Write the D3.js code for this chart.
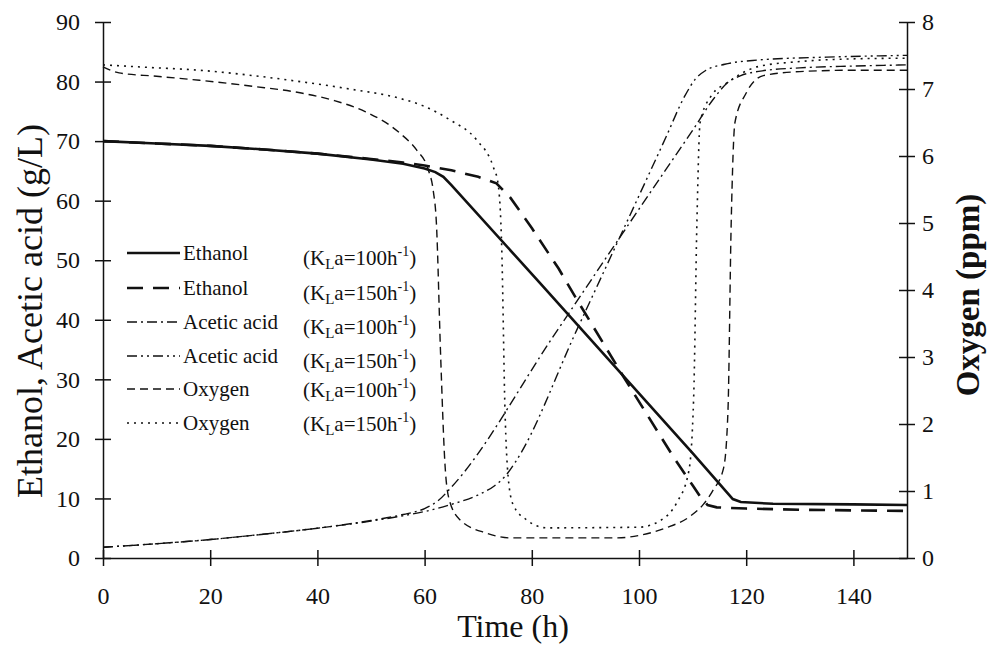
<!DOCTYPE html>
<html>
<head>
<meta charset="utf-8">
<script src="https://cdn.jsdelivr.net/npm/d3@7"></script>
<style>
  body { margin: 0; background: #fff; }
  svg { display: block; }
  text { font-family: "Liberation Serif", "Tinos", "DejaVu Serif", serif; fill: #111; }
</style>
</head>
<body>
<div id="vis"></div>
<script>
// tick labels
const timeTicks = [0, 20, 40, 60, 80, 100, 120, 140];
const leftTicks = [0, 10, 20, 30, 40, 50, 60, 70, 80, 90];
const rightTicks = [0, 1, 2, 3, 4, 5, 6, 7, 8];

// series, [time h, value] — ethanol & acetic acid in g/L, oxygen in ppm
const ethanol100 = [[0, 70], [10, 69.6], [20, 69.2], [30, 68.6], [40, 67.9], [50, 66.9], [56, 66.2], [60, 65.4],
  [62, 64.8], [63.5, 64.0], [65, 62.6], [81.5, 46.2], [110, 17.6], [117.5, 9.9], [119, 9.4], [125, 9.1],
  [140, 9.0], [150, 8.9]];
const ethanol150 = [[0, 70], [10, 69.6], [20, 69.2], [30, 68.6], [40, 67.9], [50, 67.0], [56, 66.4], [60, 65.9],
  [65, 65.1], [70, 64.0], [73.4, 62.9], [76, 60.5], [80, 55.4], [85, 48.6], [88, 44], [97, 30.6], [106.4, 17],
  [110, 12.2], [111.5, 10.2], [112.8, 8.9], [114.5, 8.5], [120, 8.3], [130, 8.1], [140, 8.0], [150, 7.9]];
const acetic100 = [[0, 1.8], [10, 2.4], [20, 3.1], [30, 4.0], [40, 5.0], [50, 6.3], [56, 7.3], [60, 8.3],
  [62.5, 9.6], [65, 11.9], [84, 37.2], [97, 54.6], [105, 65.2], [110, 71.8], [114, 77.2], [116.5, 79.8],
  [119, 81.0], [123, 81.8], [130, 82.3], [140, 82.6], [150, 82.8]];
const acetic150 = [[0, 1.8], [10, 2.4], [20, 3.1], [30, 4.0], [40, 5.0], [50, 6.2], [56, 7.1], [60, 7.8],
  [65, 9.0], [70, 10.6], [73, 12.1], [75, 13.7], [77, 16.2], [88.4, 38.3], [97, 55], [105, 70.6],
  [108.5, 77.5], [110.5, 80.4], [112.5, 81.9], [116, 82.9], [122, 83.6], [135, 84.1], [150, 84.4]];
const oxygen100 = [[0, 7.33], [3, 7.24], [10, 7.19], [18, 7.13], [28, 7.04], [37, 6.94], [43, 6.83], [49, 6.66],
  [55.4, 6.34], [58.5, 6.09], [60.7, 5.79], [61.6, 5.49], [62.2, 5.0], [63, 3.0], [63.8, 1.4], [64.5, 0.9],
  [66.6, 0.57], [71.6, 0.37], [76, 0.3], [96, 0.3], [100.2, 0.34], [105, 0.45], [109.5, 0.62], [112, 0.8],
  [113.8, 1.01], [115.8, 1.35], [116.6, 2.2], [117.2, 5.0], [117.9, 6.5], [120, 6.94], [123.2, 7.2],
  [130, 7.26], [140, 7.28], [150, 7.28]];
const oxygen150 = [[0, 7.36], [9, 7.32], [18, 7.28], [28, 7.2], [36.8, 7.11], [46, 7.0], [55.4, 6.86], [60, 6.74],
  [64.7, 6.54], [69.7, 6.24], [72.8, 5.84], [73.7, 5.59], [74.4, 4.6], [75, 2.2], [75.6, 1.2],
  [76.5, 0.8], [79, 0.57], [82.8, 0.45], [100, 0.46], [104, 0.56], [107, 0.82], [109.3, 1.3], [110.2, 2.4],
  [110.8, 5.0], [111.4, 6.5], [113.5, 6.9], [116.4, 7.09], [122, 7.33], [130, 7.41], [140, 7.45], [150, 7.46]];

const legendItems = [
  { name: "Ethanol", kla: "100", dash: null, width: 2.6 },
  { name: "Ethanol", kla: "150", dash: "16,10", width: 2.6 },
  { name: "Acetic acid", kla: "100", dash: "10,4,2,4", width: 1.4 },
  { name: "Acetic acid", kla: "150", dash: "10,4,2,4,2,4", width: 1.4 },
  { name: "Oxygen", kla: "100", dash: "8,5", width: 1.4 },
  { name: "Oxygen", kla: "150", dash: "2,5", width: 1.6 },
];

////////////////////////////////////////
////////////// Setup ///////////////////
////////////////////////////////////////

const W = 993, H = 647;
const margin = { top: 22, right: 86, bottom: 89, left: 103 };
const serif = "'Liberation Serif', 'Tinos', 'DejaVu Serif', serif";

const svg = d3.select("#vis").append("svg").attr("width", W).attr("height", H);

const x = d3.scaleLinear().domain([0, 150]).range([margin.left, W - margin.right]);
const yL = d3.scaleLinear().domain([0, 90]).range([H - margin.bottom, margin.top]);
const yR = d3.scaleLinear().domain([0, 8]).range([H - margin.bottom, margin.top]);

////////////////////////////////////////
////////////// Axes ////////////////////
////////////////////////////////////////

function crossTicks(g, horizontal) {
  g.attr("font-family", serif);
  g.selectAll(".tick line").each(function () {
    const l = d3.select(this);
    if (horizontal) l.attr("x1", -8).attr("x2", 8);
    else l.attr("y1", -8).attr("y2", 8);
  });
  g.selectAll("line, path").attr("stroke", "#111").attr("stroke-width", 1.5);
  g.selectAll("text").attr("font-size", 24).attr("fill", "#111");
}

const axisBottom = svg.append("g")
  .attr("transform", `translate(0,${yL(0)})`)
  .call(d3.axisBottom(x).tickValues(timeTicks).tickSize(0).tickPadding(29).tickSizeOuter(0));
crossTicks(axisBottom, false);

const axisLeft = svg.append("g")
  .attr("transform", `translate(${x(0)},0)`)
  .call(d3.axisLeft(yL).tickValues(leftTicks).tickSize(0).tickPadding(23).tickSizeOuter(0));
crossTicks(axisLeft, true);

const axisRight = svg.append("g")
  .attr("transform", `translate(${x(150)},0)`)
  .call(d3.axisRight(yR).tickValues(rightTicks).tickSize(0).tickPadding(15).tickSizeOuter(0));
crossTicks(axisRight, true);

// axis titles
svg.append("text")
  .attr("x", 513).attr("y", 637)
  .attr("text-anchor", "middle")
  .attr("font-size", 32)
  .text("Time (h)");

svg.append("text")
  .attr("transform", "translate(42,311) rotate(-90)")
  .attr("text-anchor", "middle")
  .attr("font-size", 36)
  .text("Ethanol, Acetic acid (g/L)");

svg.append("text")
  .attr("transform", "translate(979,295) rotate(-90)")
  .attr("text-anchor", "middle")
  .attr("font-size", 33)
  .attr("font-weight", "bold")
  .text("Oxygen (ppm)");

////////////////////////////////////////
////////////// Lines ///////////////////
////////////////////////////////////////

const lineL = d3.line().x(d => x(d[0])).y(d => yL(d[1])).curve(d3.curveMonotoneX);
const lineLlin = d3.line().x(d => x(d[0])).y(d => yL(d[1]));
const lineR = d3.line().x(d => x(d[0])).y(d => yR(d[1])).curve(d3.curveMonotoneX);

const series = [
  { data: oxygen100, gen: lineR, dash: "8,5", width: 1.4 },
  { data: oxygen150, gen: lineR, dash: "2,5", width: 1.6 },
  { data: acetic100, gen: lineL, dash: "10,4,2,4", width: 1.4 },
  { data: acetic150, gen: lineL, dash: "10,4,2,4,2,4", width: 1.4 },
  { data: ethanol150, gen: lineLlin, dash: "16,10", width: 2.6 },
  { data: ethanol100, gen: lineLlin, dash: null, width: 2.6 },
];

svg.append("g")
  .selectAll("path")
  .data(series)
  .join("path")
  .attr("d", d => d.gen(d.data))
  .attr("fill", "none")
  .attr("stroke", "#111")
  .attr("stroke-width", d => d.width)
  .attr("stroke-dasharray", d => d.dash);

////////////////////////////////////////
////////////// Legend //////////////////
////////////////////////////////////////

const legend = svg.append("g");
const rowY = [253, 288, 322, 356, 389, 423];

const rows = legend.selectAll("g")
  .data(legendItems)
  .join("g")
  .attr("transform", (d, i) => `translate(0,${rowY[i]})`);

rows.append("line")
  .attr("x1", 127).attr("x2", 180)
  .attr("y1", 0).attr("y2", 0)
  .attr("stroke", "#111")
  .attr("stroke-width", d => d.width)
  .attr("stroke-dasharray", d => d.dash);

rows.append("text")
  .attr("x", 183).attr("y", 7)
  .attr("font-size", 21)
  .text(d => d.name);

const kla = rows.append("text")
  .attr("x", 303).attr("y", (d, i) => (i < 4 ? 12 : 8))
  .attr("font-size", 21);
kla.append("tspan").text("(K");
kla.append("tspan").attr("font-size", 15).attr("dy", 4).text("L");
kla.append("tspan").attr("dy", -4).text(d => `a=${d.kla}h`);
kla.append("tspan").attr("font-size", 14).attr("dy", -9).text("-1");
kla.append("tspan").attr("dy", 9).text(")");
</script>
</body>
</html>
